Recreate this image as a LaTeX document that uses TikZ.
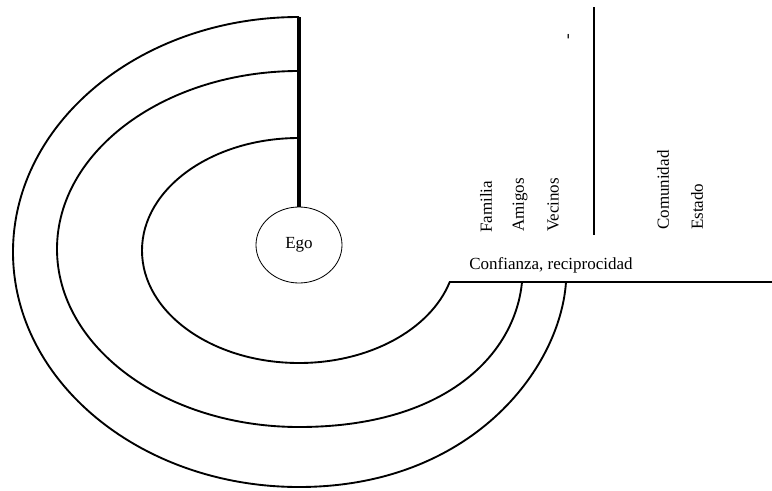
\documentclass[tikz,border=0pt]{standalone}
\usepackage{fontspec}
\setmainfont{Liberation Serif}
\usetikzlibrary{positioning,shapes.geometric}
\tikzset{
  ring/.style={line width=1.6pt},
  egoline/.style={line width=3.8pt},
  divider/.style={line width=0.9pt},
  egonode/.style={draw, ellipse, line width=0.7pt, minimum width=25.8mm, minimum height=22.8mm, inner sep=0pt},
  sidelabel/.style={rotate=90, anchor=west, inner sep=0pt}
}

\begin{document}
\begin{tikzpicture}[x=0.3mm, y=-0.3mm, every node/.style={font=\fontsize{14.5}{17}\selectfont}]
      \useasboundingbox (0,0) rectangle (772,491);
      \node[egonode] (ego) at (299,245) {Ego};
      \coordinate (top) at (299,17);
      \coordinate (midtop) at (299,71);
      \coordinate (intop) at (299,138);
      \coordinate (outend) at (566,282);
      \coordinate (midend) at (522,282);
      \coordinate (inend) at (449,282);
      \coordinate (baseend) at (772,282);
      \coordinate (divtop) at (594,7);
      \coordinate (divbot) at (594,235);
      % rings round ego
      \draw[ring] (top) arc[start angle=270, end angle=90, x radius=286, y radius=235]
            .. controls (470,487) and (560,370) .. (outend);
      \draw[ring] (midtop) arc[start angle=270, end angle=90, x radius=242, y radius=178]
            .. controls (445,427) and (515,355) .. (midend);
      \draw[ring] (intop) arc[start angle=270, end angle=16.3, x radius=157, y radius=112.5];
      \draw[ring] (inend) -- (baseend);
      \draw[egoline] (top) -- (ego.north);
      \draw[divider] (divtop) -- (divbot);
      % labels
      \node (confianza) at (551,265) {Confianza, reciprocidad};
      \node[sidelabel] (familia) at (486,233) {Familia};
      \node[sidelabel] (amigos) at (520,232) {Amigos};
      \node[sidelabel] (vecinos) at (553,232) {Vecinos};
      \node[sidelabel] (guion) at (570,40) {-};
      \node[sidelabel] (comunidad) at (663,230) {Comunidad};
      \node[sidelabel] (estado) at (697,230) {Estado};
    \end{tikzpicture}
\end{document}
